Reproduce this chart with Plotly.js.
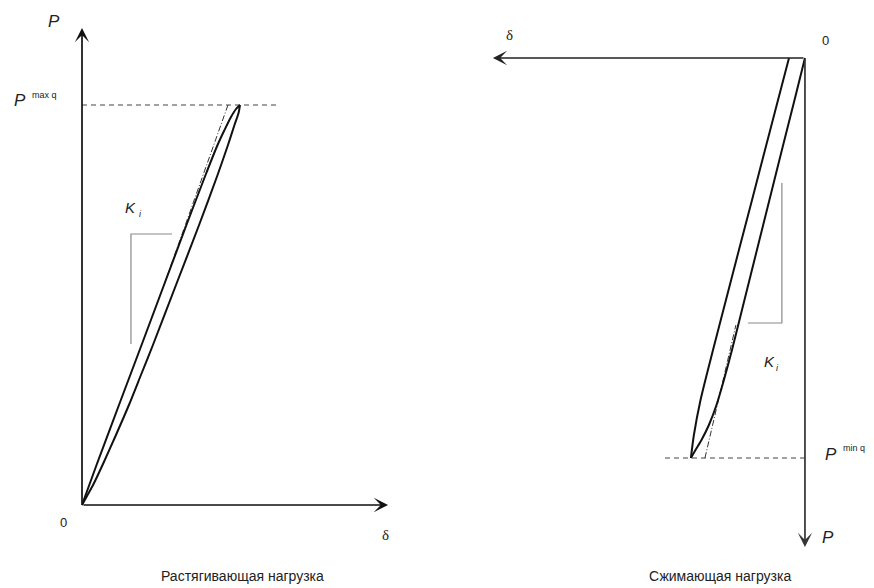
<!DOCTYPE html>
<html>
<head>
<meta charset="utf-8">
<script src="https://cdn.plot.ly/plotly-3.0.1.min.js"></script>
<style>
  html, body { margin: 0; padding: 0; background: #fff; }
  #fig { width: 874px; height: 588px; }
</style>
</head>
<body>
<div id="fig"></div>
<script>
// tension (left panel): delta vs P, P normalised to P max q = 1
var tens_load_d   = [0, 0.092, 0.234, 0.377, 0.519, 0.661, 0.782, 0.858, 0.902, 0.943, 0.975, 1.0];
var tens_load_p   = [0, 0.1, 0.25, 0.4, 0.55, 0.7, 0.825, 0.9, 0.9375, 0.97, 0.99, 1.0];
var tens_unload_d = [1.0, 0.991, 0.965, 0.924, 0.858, 0.741, 0.595, 0.449, 0.373, 0.297, 0.215, 0.130, 0.070, 0.035, 0];
var tens_unload_p = [1.0, 0.98, 0.95, 0.9, 0.825, 0.7, 0.55, 0.4, 0.325, 0.25, 0.175, 0.1, 0.05, 0.025, 0];
var tens_k_d      = [0.924, 0.519];
var tens_k_p      = [1.0, 0.55];
var tens_max_d    = [0, 1.253];
var tens_max_p    = [1.0, 1.0];
var tens_tri_d    = [0.570, 0.310, 0.310];
var tens_tri_p    = [0.6775, 0.6775, 0.4025];

// compression (right panel): delta to the left, P downwards, P min q = 1
var comp_load_d   = [0, 0.066, 0.146, 0.225, 0.304, 0.383, 0.462, 0.513, 0.560, 0.608, 0.655, 0.693, 0.722];
var comp_load_p   = [0, 0.105, 0.23, 0.355, 0.48, 0.605, 0.73, 0.805, 0.8675, 0.9175, 0.955, 0.98, 1.0];
var comp_unload_d = [0.722, 0.703, 0.661, 0.582, 0.5, 0.418, 0.335, 0.253, 0.187, 0.101];
var comp_unload_p = [1.0, 0.9425, 0.855, 0.73, 0.605, 0.48, 0.355, 0.23, 0.13, 0];
var comp_k_d      = [0.633, 0.437];
var comp_k_p      = [1.0, 0.6675];
var comp_min_d    = [0.886, 0];
var comp_min_p    = [1.0, 1.0];
var comp_tri_d    = [0.146, 0.146, 0.361];
var comp_tri_p    = [0.3125, 0.6625, 0.6625];

var axis_len = { tens_d: 1.937, tens_p: 1.1925, comp_d: 1.975, comp_p: 1.2225 };

var captions = ['Растягивающая нагрузка', 'Сжимающая нагрузка'];

function line(x, y, xa, ya, color, width, dash, curved) {
  return { x: x, y: y, xaxis: xa, yaxis: ya, mode: 'lines', hoverinfo: 'skip',
           line: { color: color, width: width, dash: dash || 'solid',
                   shape: curved ? 'spline' : 'linear', smoothing: 0.7 } };
}

var data = [
  line(tens_max_d, tens_max_p, 'x', 'y', '#444', 1, '5px,4px'),
  line(tens_tri_d, tens_tri_p, 'x', 'y', '#8a8a8a', 1.2),
  line(tens_k_d, tens_k_p, 'x', 'y', '#333', 1, '6px,2px,1px,2px'),
  line(tens_load_d, tens_load_p, 'x', 'y', '#111', 2, null, true),
  line(tens_unload_d, tens_unload_p, 'x', 'y', '#111', 2, null, true),
  line(comp_min_d, comp_min_p, 'x2', 'y2', '#444', 1, '5px,4px'),
  line(comp_tri_d, comp_tri_p, 'x2', 'y2', '#8a8a8a', 1.2),
  line(comp_k_d, comp_k_p, 'x2', 'y2', '#333', 1, '6px,2px,1px,2px'),
  line(comp_load_d, comp_load_p, 'x2', 'y2', '#111', 2, null, true),
  line(comp_unload_d, comp_unload_p, 'x2', 'y2', '#111', 2, null, true)
];

function arrow(xr, yr, x, y, color) {
  return { xref: xr, yref: yr, axref: xr, ayref: yr, x: x, y: y, ax: 0, ay: 0,
           text: '', showarrow: true, arrowhead: 3, arrowsize: 1.4, arrowwidth: 1.7,
           arrowcolor: color, standoff: 0 };
}

function label(xr, yr, x, y, txt, size, family) {
  return { xref: xr, yref: yr, x: x, y: y, text: txt, showarrow: false,
           xanchor: 'center', yanchor: 'middle',
           font: { family: family || 'Liberation Sans, Arial, sans-serif', size: size, color: '#222' } };
}

var serif = 'Liberation Serif, DejaVu Serif, serif';

var annotations = [
  arrow('x', 'y', 0, axis_len.tens_p, '#111'),
  arrow('x', 'y', axis_len.tens_d, 0, '#111'),
  arrow('x2', 'y2', axis_len.comp_d, 0, '#222'),
  arrow('x2', 'y2', 0, axis_len.comp_p, '#333'),

  label('x', 'y', -0.177, 1.21, '<i>P</i>', 17),
  label('x', 'y', -0.39, 1.0125, '<i>P</i>', 17),
  label('x', 'y', -0.24, 1.025, 'max q', 9),
  label('x', 'y', -0.12, -0.0425, '0', 13),
  label('x', 'y', 1.924, -0.075, 'δ', 15, serif),
  label('x', 'y', 0.31, 0.745, '<i>K</i>', 15),
  label('x', 'y', 0.373, 0.7275, '<i>i</i>', 9),
  label('x', 'y', 1.019, -0.1775, captions[0], 14),

  label('x2', 'y2', 1.873, -0.0575, 'δ', 15, serif),
  label('x2', 'y2', -0.127, -0.045, '0', 13),
  label('x2', 'y2', 0.222, 0.7575, '<i>K</i>', 15),
  label('x2', 'y2', 0.171, 0.775, '<i>i</i>', 9),
  label('x2', 'y2', -0.165, 0.99, '<i>P</i>', 17),
  label('x2', 'y2', -0.31, 0.975, 'min q', 9),
  label('x2', 'y2', -0.146, 1.1975, '<i>P</i>', 17),
  label('x2', 'y2', 0.538, 1.295, captions[1], 14)
];

var hidden = { visible: false, fixedrange: true };

var layout = {
  width: 874,
  height: 588,
  margin: { l: 0, r: 0, t: 0, b: 0 },
  paper_bgcolor: '#fff',
  plot_bgcolor: '#fff',
  showlegend: false,
  xaxis:  Object.assign({ domain: [0, 0.5], range: [-0.519, 2.247], anchor: 'y' }, hidden),
  yaxis:  Object.assign({ domain: [0, 1], range: [-0.2075, 1.2625], anchor: 'x' }, hidden),
  xaxis2: Object.assign({ domain: [0.5, 1], range: [2.329, -0.437], anchor: 'y2' }, hidden),
  yaxis2: Object.assign({ domain: [0, 1], range: [1.325, -0.145], anchor: 'x2' }, hidden),
  annotations: annotations
};

Plotly.newPlot('fig', data, layout, { staticPlot: true, displayModeBar: false });
</script>
</body>
</html>
